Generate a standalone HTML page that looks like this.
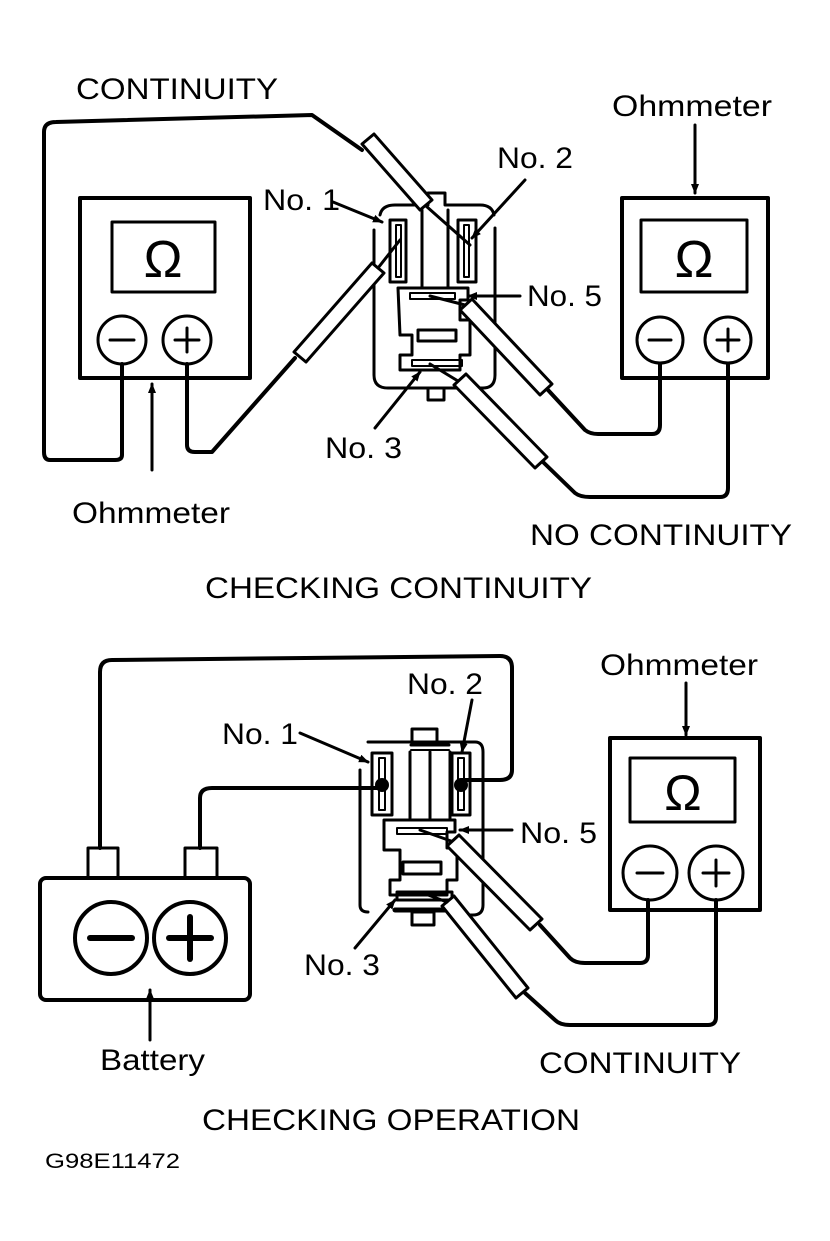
<!DOCTYPE html>
<html><head><style>
html,body{margin:0;padding:0;background:#fff}
svg{display:block}
text{font-family:"Liberation Sans",sans-serif;fill:#000}
</style></head><body>
<svg width="830" height="1241" viewBox="0 0 830 1241" xmlns="http://www.w3.org/2000/svg">
<defs>
<marker id="ah" markerWidth="10" markerHeight="10" refX="9" refY="5" orient="auto" markerUnits="userSpaceOnUse"><path d="M0,1 L10,5 L0,9 z" fill="#000"/></marker>
</defs>
<g fill="none" stroke="#000" stroke-width="4" stroke-linecap="round" stroke-linejoin="round">
<rect x="80" y="198" width="170" height="180" stroke-width="4"/>
<rect x="112" y="222" width="103" height="70" stroke-width="3"/>
<circle cx="122" cy="340" r="24" stroke-width="3"/>
<circle cx="187" cy="340" r="24" stroke-width="3"/>
<line x1="110" y1="340" x2="134" y2="340" stroke-width="3"/>
<line x1="175" y1="340" x2="199" y2="340" stroke-width="3"/>
<line x1="187" y1="328" x2="187" y2="352" stroke-width="3"/>
<rect x="622" y="198" width="146" height="180"/>
<rect x="641" y="220" width="106" height="72" stroke-width="3"/>
<circle cx="660" cy="340" r="23" stroke-width="3"/>
<circle cx="728" cy="340" r="23" stroke-width="3"/>
<line x1="649" y1="340" x2="671" y2="340" stroke-width="3"/>
<line x1="717" y1="340" x2="739" y2="340" stroke-width="3"/>
<line x1="728" y1="329" x2="728" y2="351" stroke-width="3"/>
<path d="M122,364 V455 Q122,460 115,460 H50 Q44,460 44,452 V132 Q44,122 56,122 L312,115 L362,150"/>
<path d="M187,364 V445 Q187,452 195,452 H212 L295,358"/>
<path d="M548,390 L585,430 Q590,434 598,434 H652 Q660,434 660,425 V364"/>
<path d="M543,462 L575,493 Q580,497 590,497 H720 Q728,497 728,488 V364"/>
<path d="M374,230 V375 Q374,388 388,388 H483 Q495,388 495,375 V228" stroke-width="3"/>
<path d="M380,215 Q382,205 395,205 H428 V193 H445 V205 H480 Q492,205 494,215" stroke-width="3"/>
<rect x="390" y="220" width="16" height="62" stroke-width="3"/>
<rect x="396" y="225" width="5" height="52" stroke-width="2"/>
<rect x="458" y="220" width="18" height="62" stroke-width="3"/>
<rect x="464" y="225" width="5" height="52" stroke-width="2"/>
<line x1="422" y1="210" x2="422" y2="287" stroke-width="3"/>
<line x1="448" y1="210" x2="448" y2="287" stroke-width="3"/>
<path d="M398,288 H468 V300 H460 V320 H470 V355 H460 V370 H400 V355 H412 V335 H400 Z" stroke-width="3"/>
<rect x="410" y="293" width="45" height="6" stroke-width="2"/>
<rect x="418" y="330" width="38" height="11" stroke-width="3"/>
<rect x="412" y="360" width="50" height="6" stroke-width="2"/>
<rect x="428" y="388" width="16" height="12" stroke-width="3"/>
<g stroke-width="3">
<path d="M362,144 L420,210 L432,200 L374,134 Z" fill="#fff"/>
<line x1="426" y1="206" x2="470" y2="245"/>
<path d="M294,352 L372,263 L384,273 L306,362 Z" fill="#fff"/>
<line x1="378" y1="268" x2="400" y2="240"/>
<path d="M460,310 L540,395 L552,384 L472,299 Z" fill="#fff"/>
<line x1="430" y1="296" x2="465" y2="305"/>
<path d="M454,385 L535,468 L547,457 L466,374 Z" fill="#fff"/>
<line x1="430" y1="364" x2="458" y2="381"/>
</g>
<g stroke-width="3" marker-end="url(#ah)">
<line x1="333" y1="202" x2="382" y2="222"/>
<line x1="525" y1="180" x2="472" y2="238"/>
<line x1="520" y1="296" x2="468" y2="296"/>
<line x1="375" y1="428" x2="420" y2="372"/>
<line x1="695" y1="125" x2="695" y2="193"/>
<line x1="152" y1="470" x2="152" y2="384"/>
</g>
<rect x="40" y="878" width="210" height="122" rx="6"/>
<rect x="88" y="848" width="30" height="30" stroke-width="3"/>
<rect x="185" y="848" width="32" height="30" stroke-width="3"/>
<circle cx="111" cy="938" r="36"/>
<circle cx="190" cy="938" r="36"/>
<line x1="90" y1="938" x2="132" y2="938" stroke-width="6"/>
<line x1="169" y1="938" x2="211" y2="938" stroke-width="6"/>
<line x1="190" y1="917" x2="190" y2="959" stroke-width="6"/>
<path d="M100,848 V672 Q100,660 112,660 L500,656 Q512,656 512,668 V770 Q512,780 500,780 H462"/>
<path d="M200,848 V798 Q200,788 212,788 H385"/>
<rect x="610" y="738" width="150" height="172"/>
<rect x="630" y="758" width="105" height="64" stroke-width="3"/>
<circle cx="650" cy="873" r="27" stroke-width="3"/>
<circle cx="716" cy="873" r="27" stroke-width="3"/>
<line x1="637" y1="873" x2="663" y2="873" stroke-width="3"/>
<line x1="703" y1="873" x2="729" y2="873" stroke-width="3"/>
<line x1="716" y1="860" x2="716" y2="886" stroke-width="3"/>
<path d="M540,925 L570,958 Q575,963 585,963 H640 Q648,963 648,955 V900"/>
<path d="M525,993 L555,1020 Q560,1025 570,1025 H708 Q716,1025 716,1017 V900"/>
<path d="M360,770 V905 Q360,912 368,912" stroke-width="3"/>
<path d="M368,742 H475 Q483,742 483,752 V905 Q483,915 473,915 H460" stroke-width="3"/>
<rect x="412" y="729" width="25" height="14" stroke-width="3"/>
<line x1="411" y1="745" x2="449" y2="745" stroke-width="3"/>
<line x1="411" y1="750" x2="449" y2="750" stroke-width="2"/>
<line x1="410" y1="752" x2="410" y2="818" stroke-width="3"/>
<line x1="430" y1="752" x2="430" y2="818" stroke-width="3"/>
<line x1="450" y1="752" x2="450" y2="818" stroke-width="3"/>
<rect x="372" y="753" width="20" height="62" stroke-width="3"/>
<rect x="379" y="758" width="6" height="52" stroke-width="2"/>
<rect x="452" y="753" width="18" height="62" stroke-width="3"/>
<rect x="458" y="758" width="6" height="52" stroke-width="2"/>
<circle cx="382" cy="785" r="5" fill="#000"/>
<circle cx="461" cy="785" r="5" fill="#000"/>
<path d="M384,820 H455 V832 H447 V848 H457 V880 H447 V895 H390 V880 H400 V850 H384 Z" stroke-width="3"/>
<rect x="397" y="828" width="50" height="6" stroke-width="2"/>
<rect x="403" y="862" width="38" height="12" stroke-width="3"/>
<rect x="397" y="892" width="55" height="8" stroke-width="3"/>
<line x1="395" y1="910" x2="448" y2="910" stroke-width="5"/>
<rect x="412" y="912" width="22" height="13" stroke-width="3"/>
<g stroke-width="3">
<path d="M447,846 L530,930 L542,919 L459,835 Z" fill="#fff"/>
<line x1="420" y1="830" x2="451" y2="841"/>
<path d="M442,906 L516,998 L528,988 L454,896 Z" fill="#fff"/>
<line x1="420" y1="892" x2="447" y2="902"/>
</g>
<g stroke-width="3" marker-end="url(#ah)">
<line x1="300" y1="733" x2="368" y2="762"/>
<line x1="472" y1="700" x2="462" y2="752"/>
<line x1="512" y1="830" x2="460" y2="830"/>
<line x1="355" y1="948" x2="395" y2="900"/>
<line x1="686" y1="683" x2="686" y2="735"/>
<line x1="150" y1="1040" x2="150" y2="990"/>
</g>
</g>
<text x="163" y="277" font-size="52" text-anchor="middle">Ω</text>
<text x="694" y="277" font-size="52" text-anchor="middle">Ω</text>
<text x="683" y="810" font-size="50" text-anchor="middle">Ω</text>
<g font-size="30" lengthAdjust="spacingAndGlyphs">
<text x="76" y="99" textLength="202" lengthAdjust="spacingAndGlyphs">CONTINUITY</text>
<text x="612" y="116" textLength="160" lengthAdjust="spacingAndGlyphs">Ohmmeter</text>
<text x="497" y="168" textLength="76" lengthAdjust="spacingAndGlyphs">No. 2</text>
<text x="263" y="210" textLength="77" lengthAdjust="spacingAndGlyphs">No. 1</text>
<text x="527" y="306" textLength="75" lengthAdjust="spacingAndGlyphs">No. 5</text>
<text x="325" y="458" textLength="77" lengthAdjust="spacingAndGlyphs">No. 3</text>
<text x="72" y="523" textLength="158" lengthAdjust="spacingAndGlyphs">Ohmmeter</text>
<text x="530" y="545" textLength="262" lengthAdjust="spacingAndGlyphs">NO CONTINUITY</text>
<text x="205" y="598" textLength="387" lengthAdjust="spacingAndGlyphs">CHECKING CONTINUITY</text>
<text x="600" y="675" textLength="158" lengthAdjust="spacingAndGlyphs">Ohmmeter</text>
<text x="407" y="694" textLength="76" lengthAdjust="spacingAndGlyphs">No. 2</text>
<text x="222" y="744" textLength="76" lengthAdjust="spacingAndGlyphs">No. 1</text>
<text x="520" y="843" textLength="77" lengthAdjust="spacingAndGlyphs">No. 5</text>
<text x="304" y="975" textLength="76" lengthAdjust="spacingAndGlyphs">No. 3</text>
<text x="100" y="1070" textLength="105" lengthAdjust="spacingAndGlyphs">Battery</text>
<text x="539" y="1073" textLength="202" lengthAdjust="spacingAndGlyphs">CONTINUITY</text>
<text x="202" y="1130" textLength="378" lengthAdjust="spacingAndGlyphs">CHECKING OPERATION</text>
</g>
<text x="45" y="1168" font-size="21" textLength="135" lengthAdjust="spacingAndGlyphs">G98E11472</text>
</svg>
</body></html>
